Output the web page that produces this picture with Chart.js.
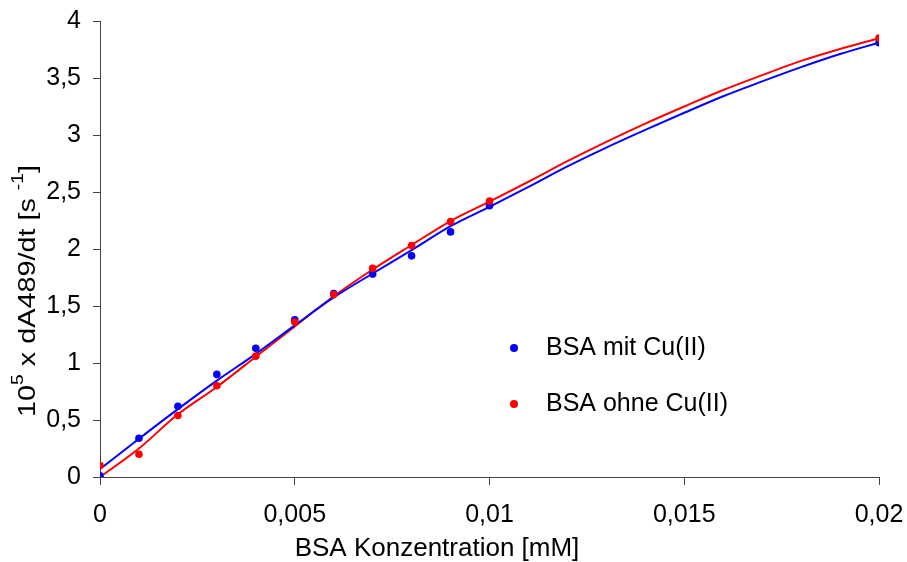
<!DOCTYPE html>
<html>
<head>
<meta charset="utf-8">
<script src="https://cdn.jsdelivr.net/npm/chart.js@4/dist/chart.umd.min.js"></script>
<style>
html,body{margin:0;padding:0;background:#fff;}
#wrap{width:907px;height:562px;position:relative;}
</style>
</head>
<body>
<div id="wrap"><canvas id="c" width="907" height="562"></canvas></div>
<script>
// ---- data ----
const pointX = [0, 0.001, 0.002, 0.003, 0.004, 0.005, 0.006, 0.007, 0.008, 0.009, 0.01, 0.02];
const mitCu  = [0.01, 0.34, 0.62, 0.90, 1.13, 1.38, 1.61, 1.78, 1.94, 2.15, 2.38, 3.81];
const ohneCu = [0.10, 0.20, 0.54, 0.80, 1.06, 1.36, 1.60, 1.83, 2.03, 2.24, 2.42, 3.85];

const curveX = [0, 0.001, 0.002, 0.003, 0.004, 0.005, 0.006, 0.007, 0.008, 0.009, 0.01,
                0.011, 0.012, 0.013, 0.014, 0.015, 0.016, 0.017, 0.018, 0.019, 0.02];
const fitMitCu  = [0.07, 0.335, 0.595, 0.845, 1.08, 1.33, 1.575, 1.785, 1.99, 2.20, 2.37,
                   2.545, 2.725, 2.89, 3.045, 3.195, 3.34, 3.47, 3.595, 3.71, 3.81];
const fitOhneCu = [0.00, 0.25, 0.55, 0.79, 1.055, 1.32, 1.585, 1.82, 2.035, 2.245, 2.415,
                   2.59, 2.77, 2.94, 3.10, 3.25, 3.395, 3.525, 3.65, 3.755, 3.85];

const xTickLabels = ['0', '0,005', '0,01', '0,015', '0,02'];
const yTickLabels = ['0', '0,5', '1', '1,5', '2', '2,5', '3', '3,5', '4'];
const seriesNames = ['BSA mit Cu(II)', 'BSA ohne Cu(II)'];
const xTitle = 'BSA Konzentration [mM]';

const BLUE = '#0000ff', RED = '#ff0000';
const FONT = '"Liberation Sans", Arial, sans-serif';

const toXY = (xs, ys) => xs.map((x, i) => ({x: x, y: ys[i]}));

// ---- plugins ----
const titlesAndLegend = {
  id: 'titlesAndLegend',
  afterDraw(chart) {
    const ctx = chart.ctx;
    const ca = chart.chartArea;
    ctx.save();
    ctx.fillStyle = '#000';
    // x title
    ctx.font = '26px ' + FONT;
    ctx.textAlign = 'center';
    ctx.textBaseline = 'middle';
    ctx.fillText(xTitle, ca.left + 337, 549);

    // y title with superscripts
    const segs = [
      {t: '10', sup: false}, {t: '5', sup: true},
      {t: ' x dA489/dt [s ', sup: false}, {t: '-1', sup: true},
      {t: ']', sup: false}
    ];
    const big = '24px ' + FONT, small = '16px ' + FONT;
    let total = 0;
    segs.forEach(s => { ctx.font = s.sup ? small : big; s.w = ctx.measureText(s.t).width; total += s.w; });
    ctx.translate(28, ca.top + 270);
    ctx.rotate(-Math.PI / 2);
    ctx.scale(1.2, 1);
    ctx.textAlign = 'left';
    ctx.textBaseline = 'middle';
    let x = -total / 2;
    segs.forEach(s => {
      ctx.font = s.sup ? small : big;
      ctx.fillText(s.t, x, s.sup ? -9 : 0);
      x += s.w;
    });
    ctx.restore();

    // legend
    ctx.save();
    const items = [{name: seriesNames[0], color: BLUE}, {name: seriesNames[1], color: RED}];
    items.forEach((it, i) => {
      const y = ca.top + 327 + i * 56;
      ctx.fillStyle = it.color;
      ctx.beginPath();
      ctx.arc(ca.left + 414, y, 4, 0, Math.PI * 2);
      ctx.fill();
      ctx.fillStyle = '#000';
      ctx.font = '25px ' + FONT;
      ctx.textAlign = 'left';
      ctx.textBaseline = 'middle';
      ctx.fillText(it.name, ca.left + 446, y);
    });
    ctx.restore();
  }
};

new Chart(document.getElementById('c'), {
  type: 'scatter',
  data: {
    datasets: [
      {label: seriesNames[1], data: toXY(pointX, ohneCu), backgroundColor: RED, borderColor: RED,
       pointRadius: 3.8, pointBorderWidth: 0, showLine: false, order: 1},
      {label: seriesNames[0], data: toXY(pointX, mitCu), backgroundColor: BLUE, borderColor: BLUE,
       pointRadius: 3.8, pointBorderWidth: 0, showLine: false, order: 2},
      {label: seriesNames[0] + ' fit', data: toXY(curveX, fitMitCu), borderColor: BLUE, backgroundColor: BLUE,
       borderWidth: 2, pointRadius: 0, showLine: true, cubicInterpolationMode: 'monotone', order: 3},
      {label: seriesNames[1] + ' fit', data: toXY(curveX, fitOhneCu), borderColor: RED, backgroundColor: RED,
       borderWidth: 2, pointRadius: 0, showLine: true, cubicInterpolationMode: 'monotone', order: 4}
    ]
  },
  options: {
    responsive: false,
    animation: false,
    layout: {padding: {top: 21, right: 28, left: 0, bottom: 0}},
    plugins: {legend: {display: false}, tooltip: {enabled: false}},
    scales: {
      x: {
        type: 'linear', min: 0, max: 0.02,
        afterFit(s) { s.height = 85; s.paddingLeft = 0; s.paddingRight = 0; },
        afterBuildTicks(s) { s.ticks = xTickLabels.map((_, i) => ({value: i * 0.005})); },
        ticks: {
          color: '#000', font: {family: FONT, size: 25}, padding: 15, maxRotation: 0,
          callback: (v, i) => xTickLabels[i]
        },
        grid: {display: true, drawOnChartArea: false, drawTicks: true, tickLength: 8, color: '#444', tickColor: '#444'},
        border: {display: true, color: '#444', width: 1}
      },
      y: {
        min: 0, max: 4,
        afterFit(s) { s.width = 100; s.paddingTop = 0; s.paddingBottom = 0; },
        afterBuildTicks(s) { s.ticks = yTickLabels.map((_, i) => ({value: i * 0.5})); },
        ticks: {
          color: '#000', font: {family: FONT, size: 25}, padding: 12,
          callback: (v, i) => yTickLabels[i]
        },
        grid: {display: true, drawOnChartArea: false, drawTicks: true, tickLength: 7, color: '#444', tickColor: '#444'},
        border: {display: true, color: '#444', width: 1}
      }
    }
  },
  plugins: [titlesAndLegend]
});
</script>
</body>
</html>
